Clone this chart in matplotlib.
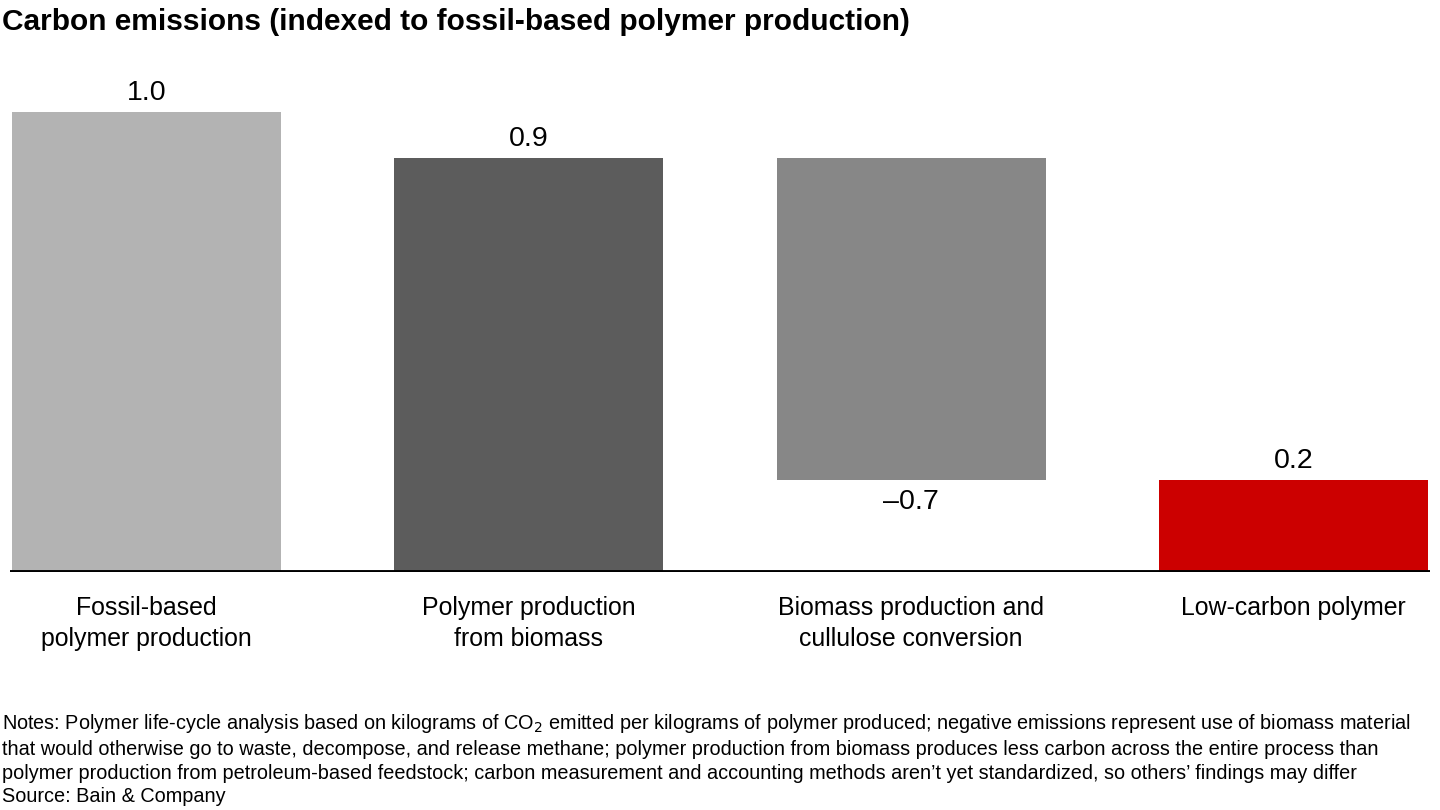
import matplotlib
matplotlib.use("Agg")
import matplotlib.pyplot as plt

plt.rcParams['font.family'] = ['Liberation Sans', 'DejaVu Sans']

# data
categories = ["Fossil-based\npolymer production", "Polymer production\nfrom biomass",
              "Biomass production and\ncullulose conversion", "Low-carbon polymer"]
values = [1.0, 0.9, -0.7, 0.2]
labels = ["1.0", "0.9", "\u20130.7", "0.2"]
colors = ["#b3b3b3", "#5c5c5c", "#878787", "#cc0000"]

# waterfall bottoms: step 3 hangs off step 2's top
bottoms = [0, 0, values[1], 0]

fig = plt.figure(figsize=(14.4, 8.1), dpi=100)
ax = fig.add_axes([10/1440, 1 - 572/810, 1420/1440, 512/810])

x = list(range(len(values)))
ax.bar(x, values, bottom=bottoms, width=0.704, color=colors, zorder=2)

for i in x:
    top = bottoms[i] + values[i]
    if values[i] >= 0:
        ax.text(i, top + 0.012, labels[i], ha="center", va="bottom", fontsize=20.5)
    else:
        ax.text(i, top - 0.02, labels[i], ha="center", va="top", fontsize=20.5)
    ax.text(i, -0.052, categories[i], ha="center", va="top", fontsize=17.9, linespacing=1.36)

ax.set_xlim(-0.357, 3.357)
ax.set_ylim(0, 512/460)
ax.axhline(0, color="black", lw=2.8, zorder=3)
ax.axis("off")

fig.text(2/1440, 1 - 22/810, "Carbon emissions (indexed to fossil-based polymer production)",
         fontsize=21.5, fontweight="bold", va="center")

notes = ("Notes: Polymer life-cycle analysis based on kilograms of CO$_2$ emitted per kilograms of polymer produced; negative emissions represent use of biomass material\n"
         "that would otherwise go to waste, decompose, and release methane; polymer production from biomass produces less carbon across the entire process than\n"
         "polymer production from petroleum-based feedstock; carbon measurement and accounting methods aren\u2019t yet standardized, so others\u2019 findings may differ\n"
         "Source: Bain & Company")
fig.text(2/1440, 1 - 712/810, notes, fontsize=14.3, va="top", linespacing=1.32)

fig.savefig("out.png", dpi=100)
